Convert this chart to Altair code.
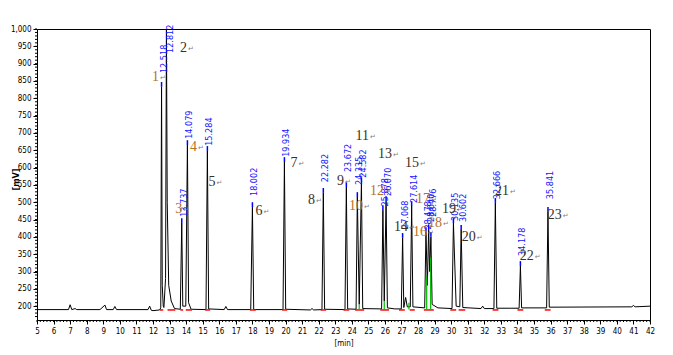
import altair as alt
import pandas as pd
import numpy as np

# ---------------- data ----------------
trace_t = [5.0, 6.9, 7.0, 7.1, 7.3, 7.4, 8.8, 9.1, 9.2, 9.6, 9.7, 9.8, 11.7, 11.8, 11.9, 12.0,
           12.4, 12.47, 12.518, 12.56, 12.62, 12.66, 12.76, 12.812, 12.86, 12.95, 13.1, 13.3,
           13.65, 13.737, 13.8, 13.98, 14.079, 14.15, 14.3, 15.2, 15.284, 15.36, 16.3, 16.4,
           16.5, 17.9, 18.002, 18.08, 19.85, 19.934, 20.01, 21.5, 21.6, 21.7, 22.2, 22.282,
           22.36, 23.59, 23.672, 23.75, 24.26, 24.335, 24.45, 24.582, 24.66, 25.8, 25.878,
           25.96, 26.07, 26.15, 26.6, 26.99, 27.068, 27.14, 27.25, 27.35, 27.53, 27.614, 27.69,
           28.4, 28.478, 28.56, 28.64, 28.7, 28.776, 28.85, 29.2, 30.05, 30.135, 30.3, 30.52,
           30.602, 30.7, 31.8, 31.9, 32.0, 32.58, 32.666, 32.75, 33.6, 34.1, 34.178, 34.25,
           35.76, 35.841, 35.92, 40.9, 41.0, 41.1, 42.0]
trace_v = [190, 190, 204, 190, 193, 190, 190, 203, 190, 190, 199, 190, 190, 200, 188, 187,
           189, 195, 833, 260, 200, 196, 280, 1000, 500, 260, 215, 193,
           191, 440, 200, 200, 665, 210, 191, 190, 648, 192, 190, 199,
           190, 190, 486, 190, 190, 616, 191, 189, 193, 189, 190, 527,
           191, 190, 544, 192, 191, 515, 205, 558, 193, 192, 477,
           215, 503, 195, 192, 192, 397, 196, 225, 198, 198, 489, 198,
           195, 414, 260, 422, 300, 400, 205, 195, 193, 440, 200, 198,
           420, 196, 193, 200, 193, 193, 498, 194, 194, 194, 316, 195,
           195, 472, 197, 198, 202, 198, 200]

peak_rt = [12.518, 12.812, 13.737, 14.079, 15.284, 18.002, 19.934, 22.282, 23.672, 24.335,
           24.582, 25.878, 26.070, 27.068, 27.614, 28.478, 28.640, 28.776, 30.135, 30.602,
           32.666, 34.178, 35.841]
peak_h = [833, 1000, 440, 665, 648, 486, 616, 527, 544, 515,
          558, 477, 503, 397, 489, 414, 422, 400, 440, 420,
          498, 316, 472]
rt_text = ["12.518", "12.812", "13.737", "14.079", "15.284", "18.002", "19.934", "22.282",
           "23.672", "24.335", "24.582", "25.878", "26.070", "27.068", "27.614", "28.478",
           "28.640", "28.776", "30.135", "30.602", "32.666", "34.178", "35.841"]
rt_label_t = [12.518, 12.90, 13.737, 14.079, 15.284, 18.002, 19.934, 22.282, 23.672, 24.335,
              24.582, 25.878, 26.070, 27.068, 27.614, 28.478, 28.640, 28.776, 30.135, 30.602,
              32.666, 34.178, 35.841]
rt_label_v = [870, 928, 455, 680, 660, 515, 628, 555, 584, 547,
              568, 485, 515, 420, 495, 418, 440, 455, 443, 440,
              506, 342, 506]

num_text = ["1", "2", "3", "4", "5", "6", "7", "8", "9", "10", "11", "12", "13", "14", "15",
            "16", "17", "18", "19", "20", "21", "22", "23"]
num_t = [12.36, 14.05, 13.76, 14.66, 15.77, 18.61, 20.72, 21.78, 23.53, 24.67, 25.04, 25.94,
         26.42, 27.39, 28.05, 28.54, 28.72, 29.44, 30.29, 31.49, 33.49, 34.99, 36.68]
num_v = [862, 946, 480, 660, 558, 474, 613, 506, 561, 489, 691, 532,
         639, 428, 613, 414, 509, 440, 480, 399, 532, 345, 463]
num_group = ["o", "d", "o", "o", "d", "d", "d", "d", "d", "o", "d", "o",
             "d", "d", "d", "o", "o", "o", "d", "d", "d", "d", "d"]

red_t0 = [12.42, 12.88, 13.65, 13.98, 15.15, 17.85, 19.8, 22.12, 23.5, 24.2, 25.72, 26.85,
          27.5, 28.35, 29.95, 30.45, 32.5, 34.0, 35.65]
red_t1 = [12.62, 13.35, 13.82, 14.35, 15.45, 18.2, 20.1, 22.45, 23.85, 24.75, 26.25, 27.2,
          27.8, 28.95, 30.3, 30.85, 32.85, 34.35, 36.0]

green_t = [24.45, 25.96, 27.45, 28.52, 28.76]
green_top = [205, 215, 210, 290, 340]

x_major = list(range(5, 43))
y_major = list(range(200, 1001, 50))

BASE = 190
FONT_AX = "Liberation Sans Narrow, DejaVu Sans Condensed, Liberation Sans, sans-serif"

# ---------------- tables ----------------
trace = pd.DataFrame({"t": trace_t, "v": trace_v})
peaks = pd.DataFrame({"t": peak_rt, "v": peak_h, "v2": [h + 14 for h in peak_h]})
rtlab = pd.DataFrame({"t": rt_label_t, "v": rt_label_v, "txt": rt_text})
nums = pd.DataFrame({"t": num_t, "v": num_v, "txt": num_text, "g": num_group})
reds = pd.DataFrame({"t": red_t0, "t2": red_t1, "v": [BASE - 1] * len(red_t0)})
greens = pd.DataFrame({"t": green_t, "v": [BASE] * len(green_t), "v2": green_top})
xminor = pd.DataFrame({"t": np.round(np.arange(5, 42.001, 0.2), 2)})
yminor = pd.DataFrame({"v": list(range(170, 1001, 10))})

xs = alt.Scale(domain=[5, 42], nice=False, zero=False)
ys = alt.Scale(domain=[160, 1000], nice=False, zero=False)

x_axis = alt.Axis(values=x_major, title="[min]", labelFont=FONT_AX, labelFontSize=8,
                  titleFont=FONT_AX, titleFontSize=8, titleFontWeight="normal",
                  tickSize=4, labelPadding=3, titlePadding=4, grid=False,
                  labelOverlap=False, labelFlush=False,
                  domainColor="black", tickColor="black", labelColor="black",
                  titleColor="black")
y_axis = alt.Axis(values=y_major, title="[mV]", format=",d", labelFont=FONT_AX,
                  labelFontSize=8, titleFont=FONT_AX, titleFontSize=9,
                  titleFontWeight="bold", tickSize=4, labelPadding=2,
                  titleX=-22, titleY=150, titleAngle=270, titleBaseline="middle",
                  labelOverlap=False, grid=False, domainColor="black", tickColor="black",
                  labelColor="black", titleColor="black")

X = alt.X("t:Q", scale=xs, axis=x_axis)
Y = alt.Y("v:Q", scale=ys, axis=y_axis)

line = alt.Chart(trace).mark_line(color="black", strokeWidth=1, clip=True).encode(x=X, y=Y)

red = alt.Chart(reds).mark_rule(color="#ff0000", strokeWidth=1.5).encode(
    x=X, x2="t2:Q", y=Y)

green = alt.Chart(greens).mark_rule(color="#00c000", strokeWidth=1.2).encode(
    x=X, y=Y, y2="v2:Q")

blue_tick = alt.Chart(peaks).mark_rule(color="#0000ff", strokeWidth=1.5, clip=True).encode(
    x=X, y=Y, y2="v2:Q")

rt_labels = alt.Chart(rtlab).mark_text(
    angle=270, align="left", baseline="middle", dy=2, dx=1,
    font=FONT_AX, fontSize=9, color="#1414ff").encode(x=X, y=Y, text="txt:N")

num_labels = alt.Chart(nums).mark_text(
    align="right", baseline="middle", font="Liberation Serif, Times New Roman, serif",
    fontSize=14).encode(
    x=X, y=Y, text="txt:N",
    color=alt.Color("g:N", scale=alt.Scale(domain=["o", "d"], range=["#b87022", "#3a3024"]),
                    legend=None))

arrows = alt.Chart(nums).mark_text(
    align="left", baseline="middle", dx=1, dy=1, fontSize=7, color="#808080",
    font="DejaVu Sans").encode(x=X, y=Y, text=alt.value("↵"))

xminor_ticks = alt.Chart(xminor).mark_rule(color="black", strokeWidth=1).encode(
    x=X, y=alt.value(291), y2=alt.value(293))

yminor_ticks = alt.Chart(yminor).mark_rule(color="black", strokeWidth=1).encode(
    y=Y, x=alt.value(-2), x2=alt.value(0))

chart = alt.layer(
    line, red, green, blue_tick, rt_labels, num_labels, arrows, xminor_ticks, yminor_ticks
).properties(
    width=613, height=291,
    autosize=alt.AutoSizeParams(type="none"),
    padding={"left": 29, "top": 21, "right": 15, "bottom": 27},
    background="white",
).configure_view(stroke="black", strokeWidth=1)

chart.save("out.html", embed_options={"renderer": "svg", "actions": False})
